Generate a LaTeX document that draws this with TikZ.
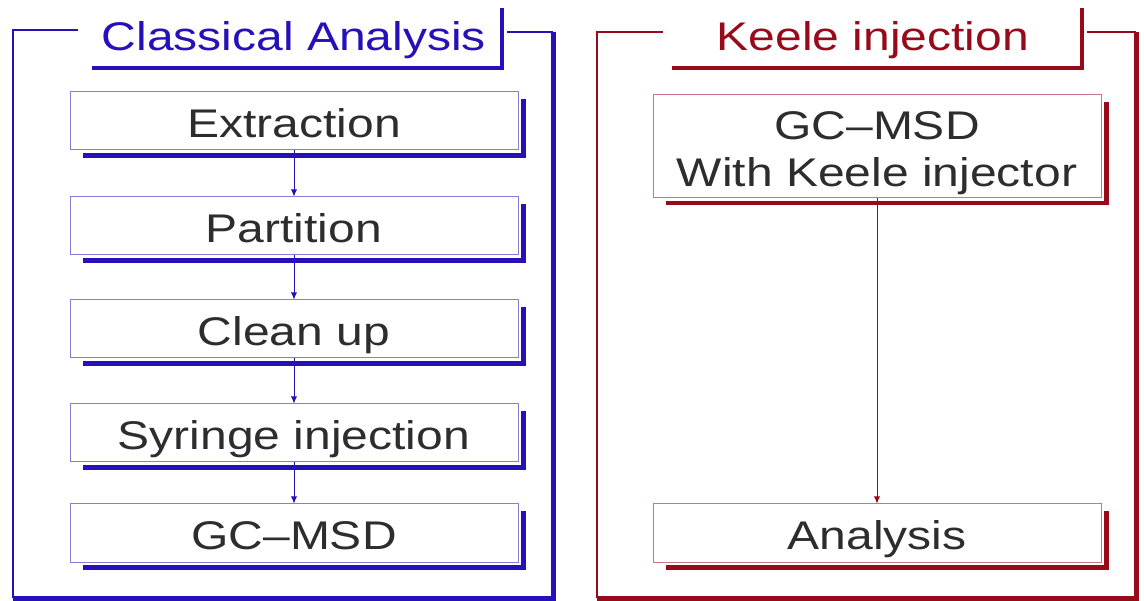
\documentclass[tikz,border=0pt]{standalone}
\usepackage{fontspec}
\setmainfont[FakeStretch=1.2]{Liberation Sans}
\usetikzlibrary{arrows.meta}
\definecolor{claBlue}{RGB}{38,16,185}
\definecolor{keeRed}{RGB}{150,10,25}
\definecolor{txtGray}{RGB}{45,45,45}
\tikzset{
    stepbox/.style = {draw=#1!55!white, line width=1pt, fill=white,
                      minimum width=448pt, minimum height=58pt, inner sep=0pt,
                      text=txtGray, align=center, text height=34pt, text depth=0pt,
                      font=\fontsize{40}{47}\selectfont},
    boxshade/.style = {draw=#1, line width=4.5pt},
    thinframe/.style = {draw=#1, line width=2.5pt},
    thickframe/.style = {draw=#1, line width=5pt},
    titletext/.style = {text=#1, text height=34pt, text depth=0pt,
                        font=\fontsize{40}{47}\selectfont},
    flow/.style = {draw=#1, line width=0.8pt, -{Latex[length=7pt,width=6pt]}}
}

\begin{document}
\begin{tikzpicture}[x=1pt, y=-1pt]
    \useasboundingbox (0,0) rectangle (1144,601);
    % classical analysis
    \draw [thinframe=claBlue] (78,30) -- (13,30) -- (13,598);
    \draw [thickframe=claBlue] (13,598) -- (553,598) -- (553,32);
    \draw [thinframe=claBlue] (553,32) -- (507,32);
    \draw [claBlue, line width=3.5pt] (92,68) -- (502,68) -- (502,8);
    \node [titletext=claBlue] (t0) at (294,34) {Classical Analysis};
    \node [stepbox=claBlue] (0) at (294,121) {Extraction};
    \node [stepbox=claBlue] (1) at (294,226) {Partition};
    \node [stepbox=claBlue] (2) at (294,329) {Clean up};
    \node [stepbox=claBlue] (3) at (294,433) {Syringe injection};
    \node [stepbox=claBlue] (4) at (294,533) {GC–MSD};
    \foreach \a/\b in {0/1, 1/2, 2/3, 3/4}
        \draw [flow=claBlue] (\a) to (\b);
    \foreach \n in {0,...,4}
        \draw [boxshade=claBlue] ([shift={(5,8)}]\n.north east)
            -- ([shift={(5,5)}]\n.south east) -- ([shift={(13,5)}]\n.south west);
    % keele injection
    \draw [thinframe=keeRed] (663,32) -- (597,32) -- (597,598);
    \draw [thickframe=keeRed] (597,598) -- (1136,598) -- (1136,32);
    \draw [thinframe=keeRed] (1136,32) -- (1087,32);
    \draw [keeRed, line width=3.5pt] (672,68) -- (1082,68) -- (1082,8);
    \node [titletext=keeRed] (t1) at (873,34) {Keele injection};
    \node [stepbox=keeRed, minimum height=103pt, text height=81pt] (5) at (877,146)
        {GC–MSD\\With Keele injector};
    \node [stepbox=keeRed] (6) at (877,533) {Analysis};
    \draw [flow=keeRed] (5) to (6);
    \foreach \n in {5,6}
        \draw [boxshade=keeRed] ([shift={(5,8)}]\n.north east)
            -- ([shift={(5,5)}]\n.south east) -- ([shift={(13,5)}]\n.south west);
\end{tikzpicture}
\end{document}
